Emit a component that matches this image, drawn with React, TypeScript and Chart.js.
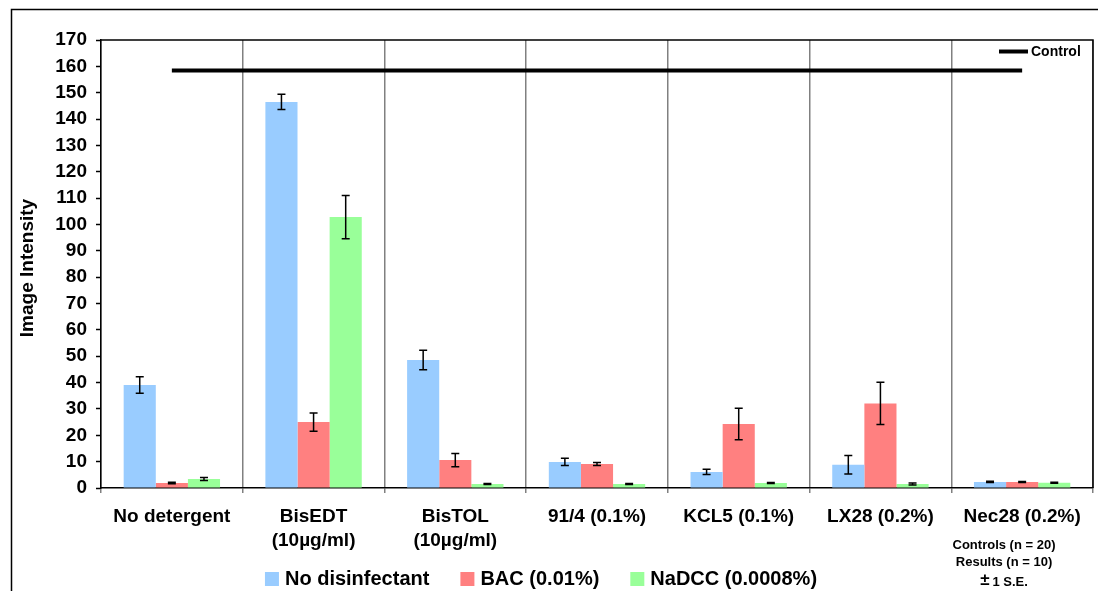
import React, { useEffect, useRef } from "react";
import { Chart, registerables } from "chart.js";

Chart.register(...registerables);

const FONT = "'Liberation Sans', Arial, sans-serif";

const categories: (string | string[])[] = [
  "No detergent",
  ["BisEDT", "(10µg/ml)"],
  ["BisTOL", "(10µg/ml)"],
  "91/4 (0.1%)",
  "KCL5 (0.1%)",
  "LX28 (0.2%)",
  "Nec28 (0.2%)",
];

const noDisinfectant = [39.1, 146.5, 48.6, 9.9, 6.1, 8.8, 2.3];
const noDisinfectantSE = [3.1, 2.9, 3.7, 1.4, 1.0, 3.5, 0.25];

const bac = [1.9, 25.0, 10.6, 9.1, 24.3, 32.1, 2.3];
const bacSE = [0.3, 3.5, 2.5, 0.6, 6.0, 8.0, 0.2];

const nadcc = [3.4, 102.8, 1.5, 1.5, 1.9, 1.5, 2.0];
const nadccSE = [0.6, 8.2, 0.2, 0.2, 0.2, 0.4, 0.2];

const controlLevel = [158.4, 158.4, 158.4, 158.4, 158.4, 158.4, 158.4];

const yTitle = "Image Intensity";
const notes = ["Controls (n = 20)", "Results (n = 10)"];
const seNote = ["±", "1 S.E."];

// error bars (± 1 S.E.) drawn on top of each bar
const errorBarPlugin = {
  id: "errorBars",
  afterDatasetsDraw(chart: any) {
    const { ctx } = chart;
    const y = chart.scales.y;
    ctx.save();
    ctx.strokeStyle = "#000";
    ctx.lineWidth = 1.5;
    chart.data.datasets.forEach((ds: any, di: number) => {
      if (!ds.errors) return;
      const meta = chart.getDatasetMeta(di);
      meta.data.forEach((bar: any, i: number) => {
        const v = ds.data[i];
        const e = ds.errors[i];
        const x = bar.x;
        const top = y.getPixelForValue(v + e);
        const bot = y.getPixelForValue(v - e);
        ctx.beginPath();
        ctx.moveTo(x, top);
        ctx.lineTo(x, bot);
        ctx.moveTo(x - 4, top);
        ctx.lineTo(x + 4, top);
        ctx.moveTo(x - 4, bot);
        ctx.lineTo(x + 4, bot);
        ctx.stroke();
      });
    });
    ctx.restore();
  },
};

// outer frame, plot border, axis title, legends and notes
const decorPlugin = {
  id: "decor",
  beforeDraw(chart: any) {
    const { ctx } = chart;
    ctx.save();
    ctx.fillStyle = "#fff";
    ctx.fillRect(0, 0, chart.width, chart.height);
    ctx.strokeStyle = "#000";
    ctx.lineWidth = 1.5;
    ctx.strokeRect(11.5, 9.5, 1200, 700);
    ctx.restore();
  },
  afterDatasetsDraw(chart: any) {
    const { ctx, chartArea: a } = chart;
    ctx.save();
    ctx.strokeStyle = "#000";
    ctx.lineWidth = 1.5;
    ctx.beginPath();
    ctx.moveTo(a.left, a.top);
    ctx.lineTo(a.right, a.top);
    ctx.lineTo(a.right, a.bottom);
    ctx.stroke();
    ctx.restore();
  },
  afterDraw(chart: any) {
    const { ctx } = chart;
    const datasets = chart.data.datasets;
    ctx.save();

    // y-axis title
    ctx.save();
    ctx.translate(28, 268);
    ctx.rotate(-Math.PI / 2);
    ctx.font = `bold 19px ${FONT}`;
    ctx.fillStyle = "#000";
    ctx.textAlign = "center";
    ctx.textBaseline = "middle";
    ctx.fillText(yTitle, 0, 0);
    ctx.restore();

    // bottom legend for the bar series
    const bars = datasets.filter((d: any) => d.type !== "line");
    ctx.font = `bold 20px ${FONT}`;
    ctx.textBaseline = "middle";
    const box = 14;
    const gapText = 6;
    const gapItem = 31;
    const widths = bars.map((d: any) => box + gapText + ctx.measureText(d.label).width);
    const total = widths.reduce((s: number, w: number) => s + w, 0) + gapItem * (bars.length - 1);
    let x = 541 - total / 2;
    const ly = 579;
    bars.forEach((d: any, i: number) => {
      ctx.fillStyle = d.backgroundColor;
      ctx.fillRect(x, ly - box / 2, box, box);
      ctx.fillStyle = "#000";
      ctx.textAlign = "left";
      ctx.fillText(d.label, x + box + gapText, ly);
      x += widths[i] + gapItem;
    });

    // control legend, top right
    const ctrl = datasets.find((d: any) => d.type === "line");
    if (ctrl) {
      ctx.strokeStyle = ctrl.borderColor;
      ctx.lineWidth = ctrl.borderWidth;
      ctx.beginPath();
      ctx.moveTo(999, 51.5);
      ctx.lineTo(1028, 51.5);
      ctx.stroke();
      ctx.font = `bold 14px ${FONT}`;
      ctx.fillStyle = "#000";
      ctx.textAlign = "left";
      ctx.fillText(ctrl.label, 1031, 52);
    }

    // sample sizes
    ctx.font = `bold 13px ${FONT}`;
    ctx.textAlign = "center";
    ctx.fillStyle = "#000";
    ctx.fillText(notes[0], 1004, 545);
    ctx.fillText(notes[1], 1004, 562);
    ctx.font = `bold 17px ${FONT}`;
    const pmW = ctx.measureText(seNote[0]).width;
    ctx.font = `bold 13px ${FONT}`;
    const seW = ctx.measureText(seNote[1]).width;
    const startX = 1004 - (pmW + 3 + seW) / 2;
    ctx.textAlign = "left";
    ctx.font = `bold 17px ${FONT}`;
    ctx.fillText(seNote[0], startX, 580);
    ctx.font = `bold 13px ${FONT}`;
    ctx.fillText(seNote[1], startX + pmW + 3, 582);

    ctx.restore();
  },
};

export default function App() {
  const ref = useRef<HTMLCanvasElement>(null);

  useEffect(() => {
    if (!ref.current) return;
    const chart = new Chart(ref.current, {
      type: "bar",
      data: {
        labels: categories,
        datasets: [
          {
            label: "No disinfectant",
            data: noDisinfectant,
            errors: noDisinfectantSE,
            backgroundColor: "#99CCFF",
            categoryPercentage: 0.68,
            barPercentage: 1.0,
            order: 2,
          } as any,
          {
            label: "BAC (0.01%)",
            data: bac,
            errors: bacSE,
            backgroundColor: "#FF8080",
            categoryPercentage: 0.68,
            barPercentage: 1.0,
            order: 2,
          } as any,
          {
            label: "NaDCC (0.0008%)",
            data: nadcc,
            errors: nadccSE,
            backgroundColor: "#99FF99",
            categoryPercentage: 0.68,
            barPercentage: 1.0,
            order: 2,
          } as any,
          {
            type: "line",
            label: "Control",
            data: controlLevel,
            borderColor: "#000",
            borderWidth: 4,
            pointRadius: 0,
            fill: false,
            order: 1,
          } as any,
        ],
      },
      options: {
        responsive: false,
        animation: false,
        devicePixelRatio: 1,
        layout: { padding: { top: 40, right: 5, left: 0, bottom: 0 } },
        plugins: {
          legend: { display: false },
          tooltip: { enabled: false },
        },
        scales: {
          x: {
            offset: true,
            grid: {
              offset: true,
              color: "#808080",
              lineWidth: 1.5,
              drawOnChartArea: true,
              drawTicks: true,
              tickLength: 5,
            },
            border: { color: "#000", width: 1.5 },
            ticks: {
              color: "#000",
              font: { family: FONT, size: 19, weight: "bold", lineHeight: 1.3 },
              padding: 11,
              maxRotation: 0,
              autoSkip: false,
            },
            afterFit(scale: any) {
              scale.height = 103;
            },
          },
          y: {
            min: 0,
            max: 170,
            ticks: {
              stepSize: 10,
              color: "#000",
              font: { family: FONT, size: 19, weight: "bold" },
              padding: 9,
            },
            grid: {
              drawOnChartArea: false,
              drawTicks: true,
              tickLength: 5,
              tickColor: "#000",
              tickWidth: 1.5,
            },
            border: { color: "#000", width: 1.5 },
            afterFit(scale: any) {
              scale.width = 101;
            },
          },
        },
      } as any,
      plugins: [decorPlugin, errorBarPlugin],
    });
    return () => chart.destroy();
  }, []);

  return (
    <div style={{ position: "absolute", left: 0, top: 0, width: 1098, height: 591 }}>
      <canvas ref={ref} width={1098} height={591} style={{ display: "block" }} />
    </div>
  );
}
